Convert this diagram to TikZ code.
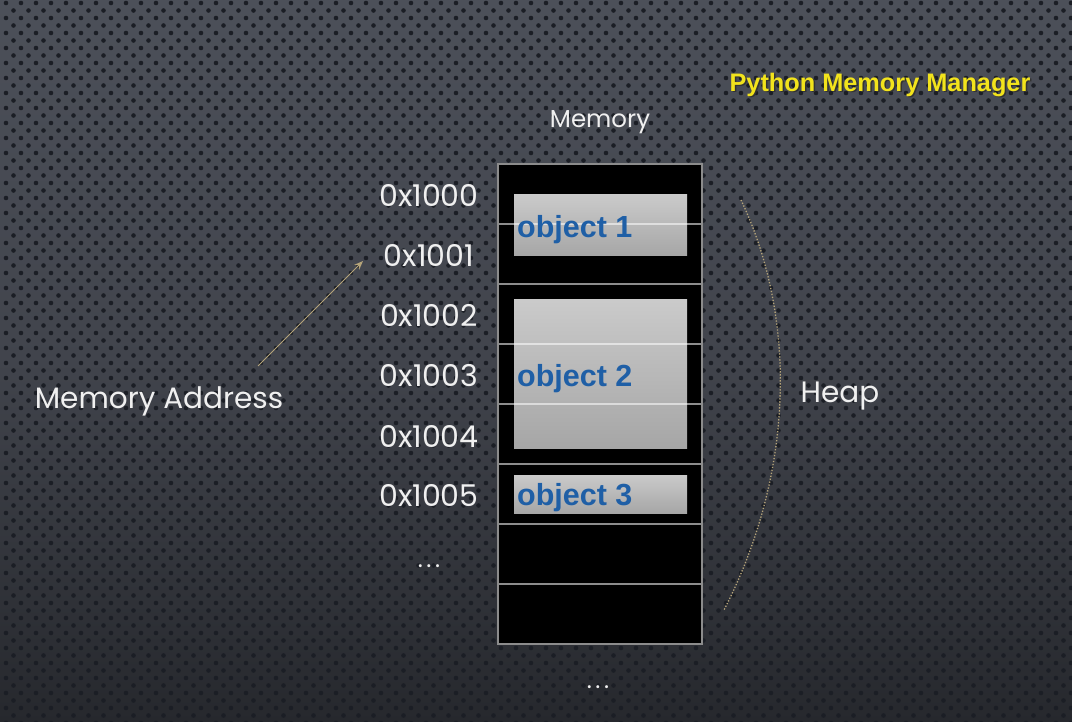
\documentclass[tikz,border=0pt]{standalone}
\usepackage{fontspec}
\setmainfont{Poppins}
\newfontfamily\arialfont{Liberation Sans}
\usetikzlibrary{arrows.meta}
\definecolor{bgtop}{HTML}{4C5059}
\definecolor{bgmid}{HTML}{41444C}
\definecolor{bgbot}{HTML}{26282D}
\definecolor{dotc}{HTML}{1B1E25}
\definecolor{objblue}{HTML}{1F5FA6}
\definecolor{ptitle}{HTML}{F2E31C}
\definecolor{tan}{HTML}{B5A47A}
\definecolor{lbl}{HTML}{F0F0F0}
\definecolor{objtop}{HTML}{CACACA}
\definecolor{objbot}{HTML}{A6A6A6}
\newcommand{\mydots}{.\hspace{3.5pt}.\hspace{3.5pt}.}
\tikzset{
  addr/.style={text=lbl, font=\fontsize{30}{34}\selectfont, inner sep=0pt},
  objbox/.style={top color=objtop, bottom color=objbot, draw=none},
  objtext/.style={text=objblue, font=\arialfont\bfseries\fontsize{30.5}{34}\selectfont, inner sep=0pt, anchor=west},
  rowline/.style={draw=white, draw opacity=0.55, line width=1.5pt},
  bigtext/.style={text=lbl, font=\fontsize{29.5}{34}\selectfont, inner sep=0pt},
  titletext/.style={font=\arialfont\bfseries\fontsize{25.3}{28}\selectfont, inner sep=0pt},
}
\begin{document}
\begin{tikzpicture}[x=1pt,y=-1pt]
\useasboundingbox (0,0) rectangle (1072,722);
% background
\shade[top color=bgtop, bottom color=bgbot, middle color=bgmid] (0,0) rectangle (1072,722);
\foreach \r in {0,...,96}{
  \pgfmathsetmacro{\off}{mod(\r,2)*7.5}
  \fill[dotc] \foreach \c in {0,...,72}{ ({\c*15+\off+6},{\r*7.5+3}) circle[radius=2.3pt] };
}
% memory column
\fill[black] (498,164) rectangle (702,644);
\shade[objbox] (514,195) rectangle (687,256);
\shade[objbox] (514,300) rectangle (687,448);
\shade[objbox] (514,475) rectangle (687,513);
\foreach \yy in {224,284,344,404,464,524,584}{
  \draw[rowline] (498,\yy) -- (702,\yy);
}
\node[draw=white!55!black, line width=1.5pt, minimum width=204pt, minimum height=480pt, inner sep=0pt] (mem) at (600,404) {};
\node[objtext] (o1) at (517,230) {object 1};
\node[objtext] (o2) at (517,379) {object 2};
\node[objtext] (o3) at (517,498) {object 3};
% labels
\node[text=lbl, font=\fontsize{24.5}{28}\selectfont, inner sep=0pt] (memlbl) at (600,122) {Memory};
\node[addr] (a0) at (429,195) {0x1000};
\node[addr] (a1) at (429,255) {0x1001};
\node[addr] (a2) at (429,315) {0x1002};
\node[addr] (a3) at (429,376) {0x1003};
\node[addr] (a4) at (429,436) {0x1004};
\node[addr] (a5) at (429,496) {0x1005};
\node[addr, font=\fontsize{24}{28}\selectfont] (a6) at (429,566) {\mydots};
\node[addr, font=\fontsize{24}{28}\selectfont] (a7) at (598,687) {\mydots};
\node[bigtext] (maddr) at (159,401) {Memory Address};
\node[bigtext] (heap) at (840,396) {Heap};
\node[titletext, text=black!80] at (881.5,86.5) {Python Memory Manager};
\node[titletext, text=ptitle] (title) at (880,85) {Python Memory Manager};
% arrow
\coordinate (as) at (258,366);
\coordinate (ae) at (363,261);
\draw[tan, line width=1pt, -{Stealth[length=9pt,width=7pt]}] (as) -- (ae);
% heap arc
\coordinate (h1) at (741,200);
\coordinate (h2) at (724,610);
\draw[tan, line width=1.3pt, dash pattern=on 1.3pt off 1.7pt] (h1) .. controls (796,315) and (796,470) .. (h2);
\end{tikzpicture}
\end{document}
